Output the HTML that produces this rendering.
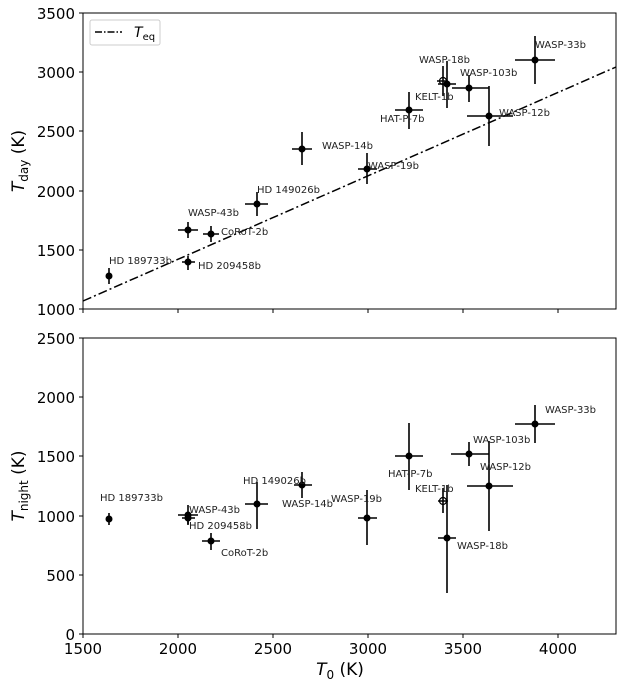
<!DOCTYPE html>
<html><head><meta charset="utf-8"><style>
body{margin:0;background:#fff}
svg{font-family:"DejaVu Sans","Liberation Sans",sans-serif}
</style></head><body>
<svg width="625" height="685" viewBox="0 0 625 685" xmlns="http://www.w3.org/2000/svg">
<g stroke="#000" stroke-width="1" fill="none">
<rect x="83" y="13" width="533" height="296"/>
<rect x="83" y="338" width="533" height="296"/>
</g>
<g stroke="#000" stroke-width="1">
<line x1="79" y1="13" x2="83" y2="13"/><line x1="79" y1="72" x2="83" y2="72"/><line x1="79" y1="131" x2="83" y2="131"/><line x1="79" y1="191" x2="83" y2="191"/><line x1="79" y1="250" x2="83" y2="250"/><line x1="79" y1="309" x2="83" y2="309"/>
<line x1="79" y1="338" x2="83" y2="338"/><line x1="79" y1="397" x2="83" y2="397"/><line x1="79" y1="456" x2="83" y2="456"/><line x1="79" y1="516" x2="83" y2="516"/><line x1="79" y1="575" x2="83" y2="575"/><line x1="79" y1="634" x2="83" y2="634"/>
<line x1="83" y1="634" x2="83" y2="638"/><line x1="178" y1="634" x2="178" y2="638"/><line x1="273" y1="634" x2="273" y2="638"/><line x1="368" y1="634" x2="368" y2="638"/><line x1="463" y1="634" x2="463" y2="638"/><line x1="558" y1="634" x2="558" y2="638"/>
<line x1="83" y1="309" x2="83" y2="313"/><line x1="178" y1="309" x2="178" y2="313"/><line x1="273" y1="309" x2="273" y2="313"/><line x1="368" y1="309" x2="368" y2="313"/><line x1="463" y1="309" x2="463" y2="313"/><line x1="558" y1="309" x2="558" y2="313"/>
</g>
<g font-size="15" text-anchor="end" fill="#000">
<text x="75" y="19">3500</text><text x="75" y="78">3000</text><text x="75" y="137">2500</text><text x="75" y="197">2000</text><text x="75" y="256">1500</text><text x="75" y="315">1000</text>
<text x="75" y="344">2500</text><text x="75" y="403">2000</text><text x="75" y="462">1500</text><text x="75" y="522">1000</text><text x="75" y="581">500</text><text x="75" y="640">0</text>
</g>
<g font-size="15" text-anchor="middle" fill="#000">
<text x="83" y="654">1500</text><text x="178" y="654">2000</text><text x="273" y="654">2500</text><text x="368" y="654">3000</text><text x="463" y="654">3500</text><text x="558" y="654">4000</text>
<text x="340" y="675" font-size="17"><tspan font-style="italic">T</tspan><tspan font-size="12" dy="4">0</tspan><tspan dy="-4"> (K)</tspan></text>
</g>
<text transform="translate(24,161) rotate(-90)" font-size="17" text-anchor="middle"><tspan font-style="italic">T</tspan><tspan font-size="12" dy="4">day</tspan><tspan dy="-4"> (K)</tspan></text>
<text transform="translate(24,486) rotate(-90)" font-size="17" text-anchor="middle"><tspan font-style="italic">T</tspan><tspan font-size="12" dy="4">night</tspan><tspan dy="-4"> (K)</tspan></text>
<rect x="90" y="20" width="70" height="25" rx="2" fill="#fff" stroke="#ccc"/>
<line x1="95" y1="32" x2="122" y2="32" stroke="#000" stroke-width="1.5" stroke-dasharray="7,2,1.5,2"/>
<text x="134" y="37" font-size="14"><tspan font-style="italic">T</tspan><tspan font-size="10" dy="3">eq</tspan></text>
<line x1="83" y1="301" x2="616" y2="67" stroke="#000" stroke-width="1.5" stroke-dasharray="9,3,2,3"/>
<g stroke="#000" stroke-width="1.6">
<path d="M109 268V284M107 276H111"/>
<path d="M182 262H195M188 256V270"/>
<path d="M178 230H198M188 222V238"/>
<path d="M203 234H219M211 226V242"/>
<path d="M245 204H268M257 192V216"/>
<path d="M292 149H312M302 132V165"/>
<path d="M358 169H377M367 153V184"/>
<path d="M395 110H423M409 92V129"/>
<path d="M438 84H456M447 61V108"/>
<path d="M437 81H448M443 66V96"/>
<path d="M452 88H489M469 75V102"/>
<path d="M467 116H513M489 86V146"/>
<path d="M515 60H555M535 36V84"/>
</g>
<g fill="#000">
<circle cx="109" cy="276" r="3.5"/><circle cx="188" cy="262" r="3.5"/><circle cx="188" cy="230" r="3.5"/><circle cx="211" cy="234" r="3.5"/><circle cx="257" cy="204" r="3.5"/><circle cx="302" cy="149" r="3.5"/><circle cx="367" cy="169" r="3.5"/><circle cx="409" cy="110" r="3.5"/><circle cx="447" cy="84" r="3.5"/><circle cx="469" cy="88" r="3.5"/><circle cx="489" cy="116" r="3.5"/><circle cx="535" cy="60" r="3.5"/>
</g>
<circle cx="443" cy="81" r="3.5" fill="none" stroke="#000" stroke-width="1.2"/>
<g font-size="10" fill="#222">
<text x="109" y="264">HD 189733b</text>
<text x="198" y="269">HD 209458b</text>
<text x="188" y="216">WASP-43b</text>
<text x="221" y="235">CoRoT-2b</text>
<text x="257" y="193">HD 149026b</text>
<text x="322" y="149">WASP-14b</text>
<text x="368" y="169">WASP-19b</text>
<text x="380" y="122">HAT-P-7b</text>
<text x="415" y="100">KELT-1b</text>
<text x="419" y="63">WASP-18b</text>
<text x="460" y="76">WASP-103b</text>
<text x="499" y="116">WASP-12b</text>
<text x="535" y="48">WASP-33b</text>
</g>
<g stroke="#000" stroke-width="1.6">
<path d="M109 513V525M107 519H111"/>
<path d="M178 515H198M188 505V525"/>
<path d="M182 518H195M188 512V524"/>
<path d="M202 541H220M211 533V550"/>
<path d="M245 504H268M257 482V529"/>
<path d="M294 485H312M302 472V498"/>
<path d="M358 518H377M367 490V545"/>
<path d="M395 456H423M409 423V490"/>
<path d="M438 501H448M443 488V513"/>
<path d="M438 538H456M447 485V593"/>
<path d="M451 454H489M469 442V466"/>
<path d="M467 486H513M489 441V531"/>
<path d="M515 424H555M535 405V443"/>
</g>
<g fill="#000">
<circle cx="109" cy="519" r="3.5"/><circle cx="188" cy="515" r="3.5"/><circle cx="188" cy="518" r="3.5"/><circle cx="211" cy="541" r="3.5"/><circle cx="257" cy="504" r="3.5"/><circle cx="302" cy="485" r="3.5"/><circle cx="367" cy="518" r="3.5"/><circle cx="409" cy="456" r="3.5"/><circle cx="447" cy="538" r="3.5"/><circle cx="469" cy="454" r="3.5"/><circle cx="489" cy="486" r="3.5"/><circle cx="535" cy="424" r="3.5"/>
</g>
<circle cx="443" cy="501" r="3.5" fill="none" stroke="#000" stroke-width="1.2"/>
<g font-size="10" fill="#222">
<text x="100" y="501">HD 189733b</text>
<text x="189" y="513">WASP-43b</text>
<text x="189" y="529">HD 209458b</text>
<text x="221" y="556">CoRoT-2b</text>
<text x="243" y="484">HD 149026b</text>
<text x="282" y="507">WASP-14b</text>
<text x="331" y="502">WASP-19b</text>
<text x="388" y="477">HAT-P-7b</text>
<text x="415" y="492">KELT-1b</text>
<text x="457" y="549">WASP-18b</text>
<text x="473" y="443">WASP-103b</text>
<text x="480" y="470">WASP-12b</text>
<text x="545" y="413">WASP-33b</text>
</g>
</svg>
</body></html>
